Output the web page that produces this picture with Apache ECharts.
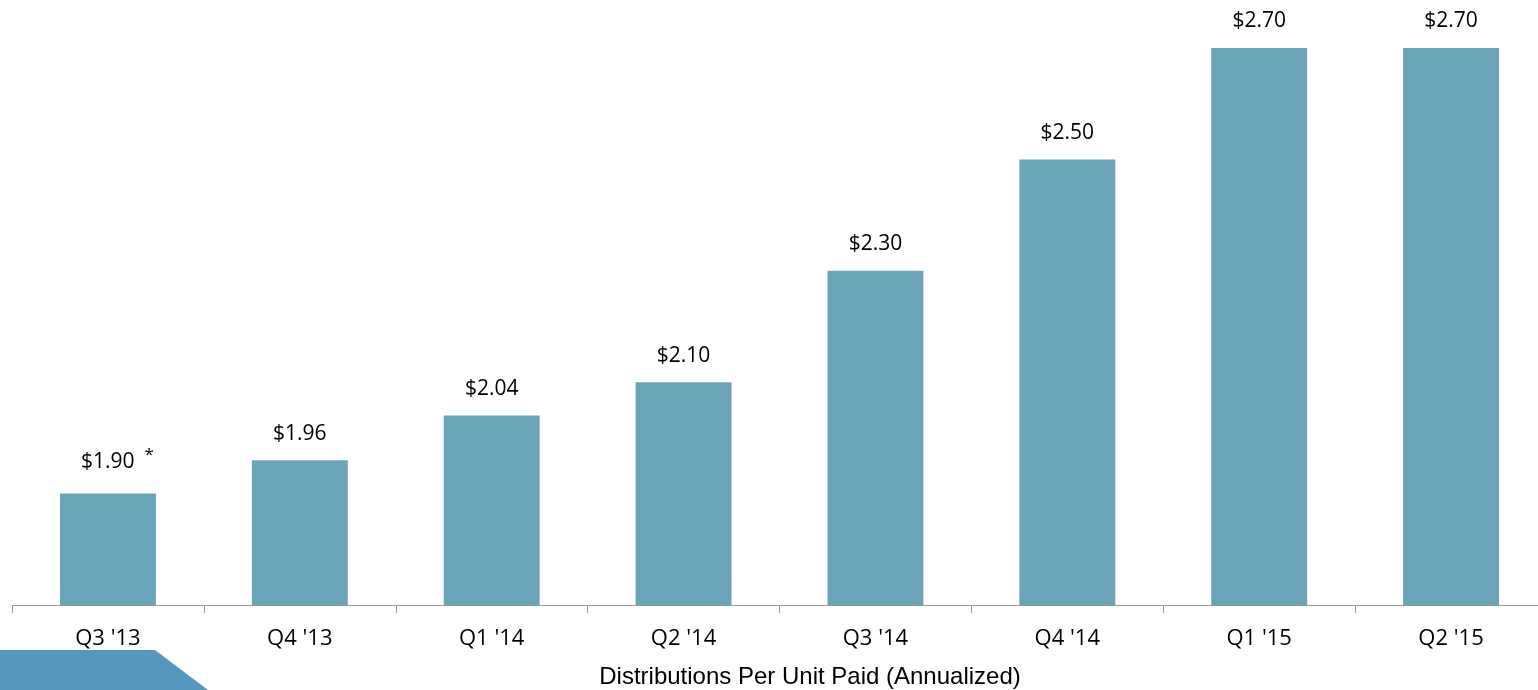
<!DOCTYPE html>
<html>
<head>
<meta charset="utf-8">
<script src="https://cdn.jsdelivr.net/npm/echarts@6/dist/echarts.min.js"></script>
<style>
  html, body { margin: 0; padding: 0; background: #fff; }
  #chart { width: 1538px; height: 690px; }
</style>
</head>
<body>
<div id="chart"></div>
<script>
const quarters = ["Q3 '13", "Q4 '13", "Q1 '14", "Q2 '14", "Q3 '14", "Q4 '14", "Q1 '15", "Q2 '15"];
const distributions = [1.90, 1.96, 2.04, 2.10, 2.30, 2.50, 2.70, 2.70];
const footnotes = ['*', '', '', '', '', '', '', ''];
const chartTitle = 'Distributions Per Unit Paid (Annualized)';

const chart = echarts.init(document.getElementById('chart'));
const labelFont = '"Open Sans", "Noto Sans", sans-serif';

chart.setOption({
  animation: false,
  title: {
    text: chartTitle,
    left: 810,
    textAlign: 'center',
    top: 665,
    padding: 0,
    textStyle: { fontFamily: '"Liberation Sans", Arial, sans-serif', fontSize: 24, fontWeight: 'normal', color: '#000' }
  },
  // the axis runs a little past the right edge of the page
  grid: { left: 12, width: 1535, top: 48, bottom: 85, containLabel: false, outerBoundsMode: 'none' },
  xAxis: {
    type: 'category',
    data: quarters,
    axisLine: { lineStyle: { color: '#999', width: 1 } },
    axisTick: { show: true, length: 8, lineStyle: { color: '#999' } },
    axisLabel: { fontFamily: labelFont, fontSize: 22, color: '#000', margin: 23 }
  },
  yAxis: {
    type: 'value',
    min: 1.7,
    max: 2.7,
    show: false,
    splitLine: { show: false }
  },
  series: [{
    type: 'bar',
    data: distributions,
    barWidth: '50%',
    itemStyle: { color: '#6AA4B9' },
    label: {
      show: true,
      position: 'top',
      distance: 16,
      // a blank spacer on the left keeps the value centred over the bar when a footnote mark follows it
      formatter: p => {
        const note = footnotes[p.dataIndex];
        const val = `{v|$${p.value.toFixed(2)}}`;
        return note ? `{pad|}${val}{s|${note}}` : val;
      },
      rich: {
        v: { fontFamily: labelFont, fontSize: 21, color: '#000' },
        pad: { width: 19 },
        s: { fontFamily: labelFont, fontSize: 17, color: '#000', verticalAlign: 'top', padding: [0, 0, 14, 10] }
      }
    }
  }],
  graphic: [{
    type: 'polygon',
    shape: { points: [[0, 650], [155, 650], [208, 690], [0, 690]] },
    style: { fill: '#5499BD' },
    z: 10
  }]
});
</script>
</body>
</html>
